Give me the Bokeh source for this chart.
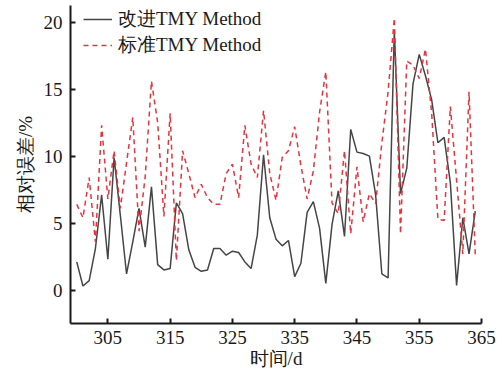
from bokeh.plotting import figure
from bokeh.models import FixedTicker, Legend, LegendItem, ColumnDataSource
from bokeh.embed import file_html
from bokeh.resources import INLINE

days = list(range(300, 365))
improved = [2.1, 0.3, 0.7, 3.1, 7.1, 2.3, 9.9, 5.6, 1.2, 3.6,
            6.1, 3.2, 7.7, 1.9, 1.5, 1.6, 6.5, 5.7, 3.0, 1.7,
            1.4, 1.5, 3.1, 3.1, 2.6, 2.9, 2.8, 2.1, 1.6, 4.1,
            10.1, 5.4, 3.8, 3.3, 3.7, 1.0, 2.0, 5.8, 6.6, 4.6,
            0.5, 4.9, 7.4, 4.0, 12.0, 10.3, 10.2, 10.0, 7.1, 1.2,
            0.9, 19.4, 7.2, 9.1, 15.4, 17.6, 16.0, 14.2, 11.0, 11.4,
            8.0, 0.35, 5.4, 2.7, 5.9]
standard = [6.4, 5.4, 8.4, 3.6, 12.3, 6.8, 10.4, 6.1, 9.5, 12.9,
            4.4, 8.5, 15.6, 12.5, 5.5, 13.2, 2.2, 10.4, 8.7, 6.9,
            7.9, 6.9, 6.4, 6.4, 8.7, 9.4, 6.9, 12.3, 9.4, 8.4,
            13.4, 8.7, 6.7, 9.9, 10.4, 12.2, 9.3, 6.8, 8.9, 13.3,
            16.3, 6.5, 5.7, 10.4, 4.2, 9.2, 5.1, 7.2, 6.45, 11.0,
            14.8, 20.3, 4.2, 17.1, 16.8, 15.8, 18.0, 13.2, 5.3, 5.2,
            13.7, 8.2, 2.7, 14.8, 2.6]
x_ticks = [305, 315, 325, 335, 345, 355, 365]
y_ticks = [0, 5, 10, 15, 20]
labels = ["改进TMY Method", "标准TMY Method"]
x_title = "时间/d"
y_title = "相对误差/%"

src = ColumnDataSource(dict(d=days, a=improved, b=standard))

p = figure(width=502, height=374, output_backend="svg", toolbar_location=None,
           x_range=(299, 365), y_range=(-2.5, 21.25),
           min_border_left=70, min_border_right=21, min_border_top=5, min_border_bottom=51)
p.outline_line_color = None
p.grid.visible = False
p.background_fill_color = "white"
p.border_fill_color = "white"

r1 = p.line("d", "a", source=src, line_color="#454545", line_width=1.5)
r2 = p.line("d", "b", source=src, line_color="#e8323c", line_width=1.5, line_dash="5 4")

serif = "Liberation Serif"
for ax in (p.xaxis[0], p.yaxis[0]):
    ax.axis_line_width = 2
    ax.axis_line_color = "#1a1a1a"
    ax.major_tick_line_width = 2
    ax.major_tick_line_color = "#1a1a1a"
    ax.major_tick_in = 5
    ax.major_tick_out = 0
    ax.minor_tick_line_color = None
    ax.major_label_text_font = serif
    ax.major_label_text_font_size = "19px"
    ax.major_label_text_color = "#1a1a1a"
    ax.axis_label_text_font = serif
    ax.axis_label_text_font_size = "19px"
    ax.axis_label_text_font_style = "normal"
    ax.axis_label_text_color = "#1a1a1a"

p.xaxis.ticker = FixedTicker(ticks=x_ticks)
p.yaxis.ticker = FixedTicker(ticks=y_ticks)
p.xaxis.axis_label = x_title
p.yaxis.axis_label = y_title
p.xaxis.major_label_standoff = 7
p.xaxis.axis_label_standoff = 1
p.yaxis.major_label_standoff = 8
p.yaxis.axis_label_standoff = 5

legend = Legend(items=[LegendItem(label=labels[0], renderers=[r1]),
                       LegendItem(label=labels[1], renderers=[r2])],
                location=(13, 265))
legend.background_fill_alpha = 0
legend.border_line_alpha = 0
legend.padding = 0
legend.margin = 0
legend.spacing = -4
legend.label_height = 20
legend.glyph_height = 20
legend.glyph_width = 29
legend.label_standoff = 6
legend.label_text_font = serif
legend.label_text_font_size = "19px"
legend.label_text_color = "#1a1a1a"
p.add_layout(legend, "center")

open("out.html", "w").write(file_html(p, INLINE))
